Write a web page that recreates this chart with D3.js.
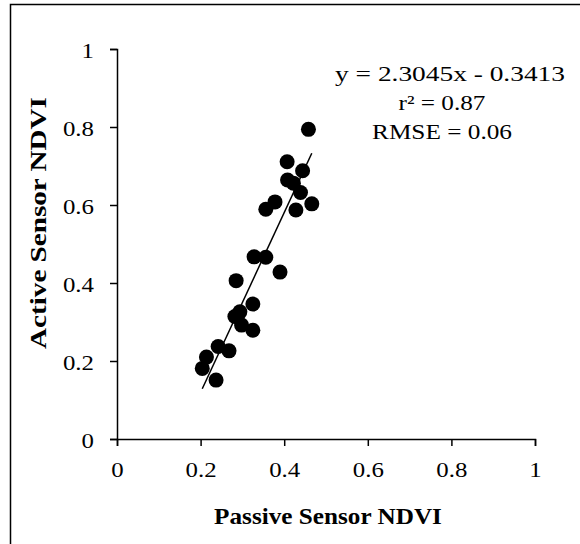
<!DOCTYPE html>
<html><head><meta charset="utf-8">
<script src="https://cdnjs.cloudflare.com/ajax/libs/d3/7.8.5/d3.min.js"></script>
<style>body{margin:0;background:#fff}svg text{font-family:"Liberation Serif","Times New Roman",serif;fill:#000}</style>
</head><body><svg id="c" width="580" height="544"></svg>
<script>
const passiveNDVI = [0.458,0.407,0.444,0.408,0.422,0.439,0.466,0.428,0.378,0.356,0.328,0.356,0.390,0.285,0.325,0.294,0.282,0.298,0.325,0.242,0.268,0.214,0.204,0.237];
const activeNDVI  = [0.794,0.711,0.688,0.664,0.656,0.632,0.603,0.587,0.608,0.589,0.467,0.466,0.428,0.406,0.346,0.326,0.314,0.292,0.279,0.237,0.226,0.210,0.181,0.151];
const xTicks = [0,0.2,0.4,0.6,0.8,1];
const yTicks = [0,0.2,0.4,0.6,0.8,1];
const slope = 2.3045, intercept = -0.3413;
const annotations = ["y = 2.3045x - 0.3413","r\u00B2 = 0.87","RMSE = 0.06"];

const svg = d3.select("#c");
svg.append("rect").attr("x",10.5).attr("y",4.5).attr("width",580).attr("height",560)
  .attr("fill","#fff").attr("stroke","#000").attr("stroke-width",1.5);

const x = d3.scaleLinear().domain([0,1]).range([117,535]);
const y = d3.scaleLinear().domain([0,1]).range([439,49]);

const fmt = d3.format("~g");
const xAxis = svg.append("g").attr("transform","translate(0,439)")
  .call(d3.axisBottom(x).tickValues(xTicks).tickFormat(fmt).tickSizeInner(7).tickSizeOuter(7));
const yAxis = svg.append("g").attr("transform","translate(117,0)")
  .call(d3.axisLeft(y).tickValues(yTicks).tickFormat(fmt).tickSizeInner(7).tickSizeOuter(7));
[xAxis,yAxis].forEach(a=>{
  a.selectAll("path,line").attr("stroke","#000").attr("stroke-width",1.5);
  a.selectAll("text").attr("font-size",22).attr("font-family","Liberation Serif").attr("fill","#000");
});
const kTick = 1.13;
xAxis.selectAll(".tick text").attr("x",0).attr("y",0).attr("dy",null)
  .attr("text-anchor","middle").attr("transform",`translate(0,38) scale(${kTick},1)`);
yAxis.selectAll(".tick text").attr("x",0).attr("y",0).attr("dy",null)
  .attr("text-anchor","end").attr("transform",`translate(-23,8) scale(${kTick},1)`);

const pts = passiveNDVI.map((p,i)=>({p, a:activeNDVI[i]}));
svg.append("g").selectAll("circle").data(pts).join("circle")
  .attr("cx",d=>x(d.p)).attr("cy",d=>y(d.a)).attr("r",7.5).attr("fill","#000");

const xe = d3.extent(passiveNDVI);
svg.append("line").attr("x1",x(xe[0])).attr("y1",y(slope*xe[0]+intercept))
  .attr("x2",x(xe[1])).attr("y2",y(slope*xe[1]+intercept))
  .attr("stroke","#000").attr("stroke-width",1.5);

function placeText(t, tx, ty, size, width, bold, rot){
  const el = svg.append("text").attr("text-anchor","middle").attr("font-size",size)
    .attr("font-weight",bold?"bold":null).text(t);
  const k = width / el.node().getComputedTextLength();
  el.attr("transform",`translate(${tx},${ty})${rot?" rotate(-90)":""} scale(${k},1)`);
  return el;
}
const annX = [450,442,442], annY = [81,110,139], annW = [230,87,140];
annotations.forEach((t,i)=>placeText(t, annX[i], annY[i], 22, annW[i], false, false));

placeText("Passive Sensor NDVI", 328, 524, 23, 228, true, false);
placeText("Active Sensor NDVI", 46, 223, 23, 252, true, true);
</script></body></html>
